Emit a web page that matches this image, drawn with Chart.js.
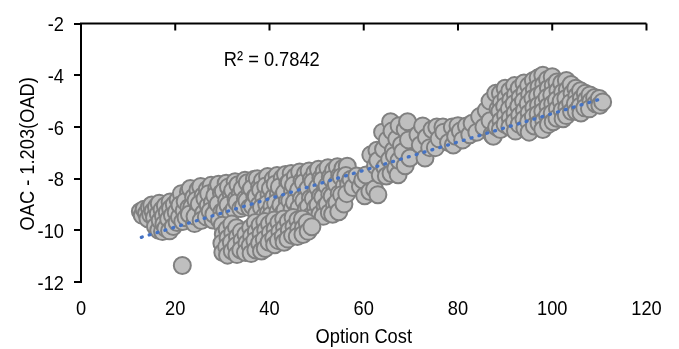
<!DOCTYPE html>
<html>
<head>
<meta charset="utf-8">
<script src="https://cdn.jsdelivr.net/npm/chart.js@4"></script>
<style>
    html, body { margin: 0; padding: 0; background: #fff; }
    canvas { display: block; }
</style>
</head>
<body>
<canvas id="scatter" width="679" height="349"></canvas>
<script>
// -----------------------------
// Data: [option cost, OAC - 1.203(OAD)]
// -----------------------------
const lowCostGroup = [
    [12.6, -9.27], [13.0, -9.42], [13.4, -9.18], [13.9, -9.34], [14.2, -9.55], [14.5, -9.12],
    [14.8, -9.40], [15.0, -9.02], [15.3, -9.26], [15.6, -9.50], [15.8, -9.85], [16.0, -9.10],
    [16.4, -9.36], [16.5, -10.0], [16.6, -8.95], [16.8, -9.62], [17.2, -9.20], [17.3, -10.05],
    [17.5, -9.45], [17.6, -9.76], [17.9, -9.05], [18.0, -9.92], [18.3, -9.30], [18.6, -9.56],
    [18.8, -10.02], [18.9, -8.90], [19.0, -9.15], [19.4, -9.42], [19.6, -9.85], [19.8, -9.00],
    [20.2, -9.30], [20.4, -9.70], [21.5, -11.36]
];

const midCostBand = [
    [20.6, -8.82], [20.9, -9.48], [21.3, -8.58], [21.0, -9.02], [21.9, -9.24], [21.6, -9.66],
    [22.8, -8.52], [22.1, -8.88], [22.9, -9.12], [22.3, -9.51], [23.2, -8.38], [23.9, -8.72],
    [23.5, -9.10], [23.0, -9.38], [24.1, -9.74], [24.8, -8.44], [24.4, -8.84], [24.9, -9.20],
    [24.2, -9.46], [25.4, -8.30], [25.9, -8.66], [25.1, -8.98], [26.0, -9.34], [25.5, -9.62],
    [26.8, -8.42], [26.3, -8.78], [27.0, -9.04], [26.6, -9.48], [27.6, -8.26], [27.1, -8.58],
    [27.9, -8.92], [27.4, -9.26], [28.0, -9.60], [28.8, -8.38], [28.4, -8.66], [28.9, -9.08],
    [28.2, -9.38], [29.2, -8.22], [29.8, -8.56], [29.1, -8.98], [29.9, -9.28], [29.4, -9.60],
    [30.8, -8.18], [30.2, -8.50], [30.9, -8.86], [30.5, -9.22], [31.3, -8.32], [31.9, -8.62],
    [31.2, -9.02], [31.8, -9.36], [32.7, -8.12], [32.2, -8.46], [32.9, -8.80], [32.5, -9.18],
    [33.3, -8.24], [33.8, -8.58], [33.1, -8.92], [33.9, -9.16], [34.8, -8.06], [34.2, -8.40],
    [34.9, -8.78], [34.5, -9.06], [35.3, -8.16], [35.9, -8.48], [35.2, -8.86], [35.8, -9.12],
    [36.8, -8.02], [36.2, -8.38], [36.9, -8.72], [36.4, -9.06], [37.4, -8.00], [37.9, -8.32],
    [37.2, -8.68], [37.8, -9.02], [37.3, -9.36], [38.5, -8.08], [38.1, -8.44], [38.8, -8.76],
    [38.3, -9.12], [38.9, -9.46], [39.6, -7.92], [39.2, -8.28], [39.9, -8.62], [39.4, -8.98],
    [39.8, -9.32], [40.8, -8.02], [40.2, -8.38], [40.9, -8.72], [40.5, -9.06], [40.3, -9.42],
    [41.6, -7.88], [41.2, -8.22], [41.9, -8.58], [41.3, -8.94], [41.8, -9.28], [42.7, -7.98],
    [42.1, -8.32], [42.9, -8.66], [42.4, -9.02], [42.8, -9.36], [43.4, -7.84], [43.9, -8.18],
    [43.2, -8.54], [43.8, -8.88], [43.3, -9.22], [44.6, -7.80], [44.2, -8.14], [44.9, -8.48],
    [44.3, -8.86], [44.8, -9.18], [45.5, -7.92], [45.1, -8.26], [45.8, -8.62], [45.3, -8.92],
    [45.9, -9.28], [46.4, -7.74], [46.9, -8.08], [46.2, -8.44], [46.8, -8.78], [46.3, -9.12],
    [47.6, -7.82], [47.2, -8.16], [47.9, -8.48], [47.3, -8.86], [47.8, -9.18], [48.4, -7.70],
    [48.9, -8.02], [48.2, -8.38], [48.7, -8.76], [48.3, -9.08], [48.8, -9.44], [49.6, -7.78],
    [49.2, -8.12], [49.9, -8.46], [49.3, -8.78], [49.8, -9.12], [49.4, -9.48], [50.4, -7.64],
    [50.9, -7.98], [50.2, -8.34], [50.8, -8.68], [50.3, -9.02], [50.7, -9.38], [51.6, -7.72],
    [51.2, -8.06], [51.9, -8.42], [51.3, -8.72], [51.8, -9.08], [51.4, -9.46], [52.4, -7.58],
    [52.9, -7.94], [52.2, -8.28], [52.8, -8.62], [52.3, -8.98], [52.7, -9.32], [53.6, -7.68],
    [53.2, -8.02], [53.9, -8.36], [53.3, -8.68], [53.8, -9.02], [53.4, -9.38], [54.4, -7.54],
    [54.9, -7.88], [54.2, -8.22], [54.8, -8.58], [54.3, -8.92], [54.7, -9.28], [55.6, -7.60],
    [55.2, -7.94], [55.9, -8.28], [55.3, -8.62], [55.8, -8.98], [56.5, -7.52], [56.2, -7.88],
    [56.8, -8.22], [56.4, -8.58], [57.3, -8.02], [57.7, -8.34]
];

const lowerCluster = [
    [30.0, -9.80], [30.2, -10.15], [29.9, -10.50], [30.1, -10.86], [31.0, -9.96], [31.2, -10.30],
    [30.9, -10.64], [31.1, -10.96], [32.0, -9.76], [32.2, -10.10], [31.9, -10.46], [32.1, -10.80],
    [33.0, -9.90], [33.2, -10.26], [32.9, -10.60], [33.1, -10.94], [34.0, -10.06], [34.2, -10.40],
    [33.9, -10.76], [35.0, -10.16], [35.2, -10.50], [34.9, -10.86], [36.0, -9.90], [36.2, -10.24],
    [35.9, -10.60], [36.1, -10.90], [37.0, -9.70], [37.2, -10.06], [36.9, -10.40], [37.1, -10.76],
    [38.0, -9.80], [38.2, -10.14], [37.9, -10.50], [38.3, -10.80], [39.0, -9.66], [39.2, -10.00],
    [38.9, -10.36], [39.1, -10.70], [40.0, -9.76], [40.2, -10.10], [39.9, -10.46], [41.0, -9.60],
    [41.2, -9.96], [40.9, -10.30], [41.1, -10.56], [42.0, -9.70], [42.2, -10.06], [41.9, -10.40],
    [43.0, -9.56], [43.2, -9.90], [42.9, -10.24], [43.1, -10.46], [44.0, -9.66], [44.2, -10.00],
    [43.9, -10.34], [45.0, -9.50], [45.2, -9.86], [44.9, -10.20], [46.0, -9.60], [46.2, -9.94],
    [45.9, -10.24], [47.0, -9.56], [47.2, -9.90], [47.1, -10.16], [48.0, -9.70], [48.2, -10.04],
    [49.0, -9.86]
];

const risingCluster = [
    [58.5, -7.90], [59.3, -8.30], [59.8, -8.05], [60.2, -8.66], [60.5, -7.86], [61.3, -8.50],
    [62.3, -8.40], [63.0, -8.62], [61.5, -7.08], [62.5, -7.50], [63.5, -7.86], [63.6, -7.15],
    [62.8, -6.90], [63.0, -7.30], [64.0, -6.20], [64.2, -6.86], [64.5, -7.56], [64.8, -7.90],
    [65.0, -6.50], [65.5, -7.26], [65.8, -7.80], [65.7, -5.80], [66.0, -6.16], [66.3, -6.90],
    [66.5, -7.10], [66.8, -7.60], [67.0, -6.46], [67.3, -7.85], [67.5, -5.95], [67.5, -7.30],
    [68.0, -6.70], [68.3, -6.96], [68.8, -6.10], [68.8, -7.50], [69.3, -5.80], [69.5, -6.50],
    [69.8, -7.20], [71.5, -6.30], [72.0, -6.70], [72.5, -5.96], [73.3, -6.40], [73.0, -7.20],
    [74.0, -6.80], [74.5, -6.10], [75.5, -6.00], [75.2, -6.80], [76.0, -6.46], [76.8, -6.00],
    [77.0, -6.20], [78.0, -6.60], [78.8, -6.00], [79.0, -6.70], [79.5, -6.36], [80.0, -5.95],
    [80.5, -6.16], [81.0, -6.50], [81.8, -5.96], [82.5, -6.30], [83.0, -5.86], [84.0, -6.20],
    [84.6, -5.60], [85.5, -6.00], [86.0, -5.36], [86.8, -5.76], [87.2, -6.30], [87.5, -6.36],
    [86.8, -5.00], [88.0, -4.70], [88.5, -5.30], [88.2, -6.00]
];

const highCostGroup = [
    [89.0, -4.70], [89.2, -5.06], [88.9, -5.40], [89.1, -5.76], [89.0, -6.10], [90.0, -4.50],
    [90.2, -4.86], [89.9, -5.20], [90.1, -5.56], [90.0, -5.90], [91.0, -4.60], [91.2, -4.96],
    [90.9, -5.30], [91.1, -5.66], [91.0, -6.00], [92.0, -4.40], [92.2, -4.76], [91.9, -5.10],
    [92.1, -5.46], [92.0, -5.80], [92.2, -6.16], [93.0, -4.50], [93.2, -4.86], [92.9, -5.20],
    [93.1, -5.56], [93.0, -5.90], [94.0, -4.30], [94.2, -4.66], [93.9, -5.00], [94.1, -5.36],
    [94.0, -5.70], [94.2, -6.06], [95.0, -4.40], [95.2, -4.76], [94.9, -5.10], [95.1, -5.46],
    [95.0, -5.80], [95.1, -6.20], [96.0, -4.20], [96.2, -4.56], [95.9, -4.90], [96.1, -5.26],
    [96.0, -5.60], [96.2, -5.96], [97.0, -4.10], [97.2, -4.46], [96.9, -4.80], [97.1, -5.16],
    [97.0, -5.50], [97.2, -5.86], [98.0, -4.00], [98.2, -4.36], [97.9, -4.70], [98.1, -5.06],
    [98.0, -5.40], [98.2, -5.76], [98.0, -6.10], [99.0, -4.16], [99.2, -4.50], [98.9, -4.86],
    [99.1, -5.20], [99.0, -5.56], [99.2, -5.90], [100.0, -4.06], [100.2, -4.40], [99.9, -4.76],
    [100.1, -5.10], [100.0, -5.46], [100.2, -5.80], [101.0, -4.26], [101.2, -4.60], [100.9, -4.96],
    [101.1, -5.30], [101.0, -5.66], [102.0, -4.30], [102.2, -4.66], [101.9, -5.00], [102.1, -5.36],
    [102.3, -5.68], [103.0, -4.20], [103.2, -4.56], [102.9, -4.90], [103.1, -5.26], [103.0, -5.56],
    [104.0, -4.36], [104.2, -4.70], [103.9, -5.06], [104.1, -5.40], [105.0, -4.50], [105.2, -4.80],
    [104.9, -5.10], [105.1, -5.40], [106.0, -4.60], [106.2, -4.90], [105.9, -5.20], [106.1, -5.46],
    [107.0, -4.70], [107.2, -4.96], [106.9, -5.26], [108.0, -4.76], [108.2, -5.00], [107.9, -5.30],
    [109.0, -4.86], [109.2, -5.10], [110.0, -4.90], [110.1, -5.16], [110.7, -5.03]
];

// Linear trendline end points
const trendCost = [12.8, 109.7];
const trendValue = [-10.27, -4.95];
const rSquaredText = 'R\u00b2 = 0.7842';

// Axis ranges and labels
const xRange = [0, 120, 20];
const yRange = [-12, -2, 2];
const xTitle = 'Option Cost';
const yTitle = 'OAC - 1.203(OAD)';

// -----------------------------
// Styling
// -----------------------------
const FONT_FAMILY = "'Liberation Sans', Arial, sans-serif";
const FONT_SIZE = 21;
const TEXT_SQUEEZE = 0.87;   // narrow face look

Chart.defaults.font.family = FONT_FAMILY;
Chart.defaults.font.size = FONT_SIZE;
Chart.defaults.color = '#000';

const observations = [...lowCostGroup, ...midCostBand, ...lowerCluster, ...risingCluster, ...highCostGroup]
    .map(([x, y]) => ({ x, y }));
const trendPoints = trendCost.map((x, i) => ({ x, y: trendValue[i] }));

function drawNarrowText(ctx, text, x, y, align = 'center', angle = 0) {
    ctx.save();
    ctx.translate(x, y);
    if (angle) ctx.rotate(angle);
    ctx.scale(TEXT_SQUEEZE, 1);
    ctx.font = `${FONT_SIZE}px ${FONT_FAMILY}`;
    ctx.fillStyle = '#000';
    ctx.textAlign = align;
    ctx.textBaseline = 'middle';
    ctx.fillText(text, 0, 0);
    ctx.restore();
}

// Frame line along the top of the plot, ticks hanging inward
const topFrame = {
    id: 'topFrame',
    afterDraw(chart) {
        const { ctx, chartArea } = chart;
        const xScale = chart.scales.x;
        ctx.save();
        ctx.strokeStyle = '#000';
        ctx.lineWidth = 2;
        ctx.beginPath();
        ctx.moveTo(chartArea.left - 1, chartArea.top);
        ctx.lineTo(chartArea.right, chartArea.top);
        xScale.ticks.forEach(t => {
            const px = xScale.getPixelForValue(t.value);
            ctx.moveTo(px, chartArea.top);
            ctx.lineTo(px, chartArea.top + 7);
        });
        ctx.stroke();
        ctx.restore();
    }
};

// Tick labels, axis titles and the fit note, in a condensed face
const axisText = {
    id: 'axisText',
    afterDraw(chart) {
        const { ctx, chartArea } = chart;
        const { x, y } = chart.scales;

        x.ticks.forEach(t => {
            drawNarrowText(ctx, String(t.value), x.getPixelForValue(t.value), chartArea.bottom + 27);
        });
        y.ticks.forEach(t => {
            drawNarrowText(ctx, String(t.value), chartArea.left - 17, y.getPixelForValue(t.value) + 2, 'right');
        });

        drawNarrowText(ctx, xTitle, (chartArea.left + chartArea.right) / 2, chartArea.bottom + 55);
        drawNarrowText(ctx, yTitle, 28, (chartArea.top + chartArea.bottom) / 2 + 1, 'center', -Math.PI / 2);

        drawNarrowText(ctx, rSquaredText, x.getPixelForValue(30.3), y.getPixelForValue(-3.4), 'left');
    }
};

new Chart(document.getElementById('scatter'), {
    type: 'scatter',
    data: {
        datasets: [
            {
                data: trendPoints,
                showLine: true,
                borderColor: '#4472C4',
                borderWidth: 3.3,
                borderDash: [1, 7.2],
                borderCapStyle: 'round',
                pointRadius: 0,
                order: 0
            },
            {
                data: observations,
                pointRadius: 8.5,
                pointBackgroundColor: '#BFBFBF',
                pointBorderColor: '#808080',
                pointBorderWidth: 2,
                order: 1
            }
        ]
    },
    options: {
        responsive: false,
        animation: false,
        events: [],
        layout: { padding: { top: 18, right: 28, bottom: 0, left: 0 } },
        plugins: {
            legend: { display: false },
            tooltip: { enabled: false }
        },
        scales: {
            x: {
                type: 'linear',
                min: xRange[0],
                max: xRange[1],
                ticks: { stepSize: xRange[2], padding: 15, color: 'rgba(0,0,0,0)' },
                grid: { display: false, drawTicks: false },
                border: { display: false },
                title: { display: false },
                afterFit: scale => { scale.height = 67; }
            },
            y: {
                type: 'linear',
                min: yRange[0],
                max: yRange[1],
                ticks: { stepSize: yRange[2], padding: 11, color: 'rgba(0,0,0,0)' },
                grid: { drawOnChartArea: false, drawTicks: true, tickLength: 7, color: '#000', lineWidth: 2 },
                border: { color: '#000', width: 2 },
                title: { display: false },
                afterFit: scale => { scale.width = 81; }
            }
        }
    },
    plugins: [topFrame, axisText]
});
</script>
</body>
</html>
